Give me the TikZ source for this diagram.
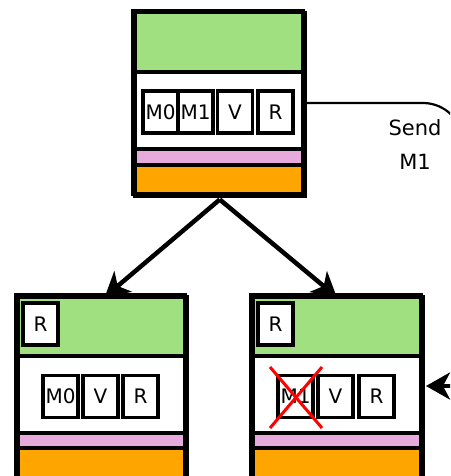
\documentclass[tikz,border=0pt]{standalone}
\usepackage{fontspec}
\newfontfamily\lab{DejaVu Sans}
\usetikzlibrary{arrows.meta}
\definecolor{cgreen}{RGB}{160,224,128}
\definecolor{cpink}{RGB}{230,170,220}
\definecolor{corange}{RGB}{255,165,0}
\begin{document}
\begin{tikzpicture}[x=1pt,y=-1pt,
  sec/.style={draw=black,line width=3.5pt},
  frame/.style={draw=black,line width=3.5pt,inner sep=0pt,anchor=north west},
  cell/.style={draw=black,line width=3.5pt,fill=white,inner sep=0pt,
    minimum width=35pt,minimum height=42pt,font=\fontsize{20}{20}\lab},
  arr/.style={line width=4.5pt,-{Stealth[length=24pt,width=27pt,inset=7pt]}}]
\useasboundingbox (0,0) rectangle (450,476);
\clip (0,0) rectangle (450,476);

% ---- top stack
\draw[sec,fill=cgreen] (133,11) rectangle (303,72);
\draw[sec,fill=white] (133,72) rectangle (303,149);
\draw[sec,fill=cpink] (133,149) rectangle (303,165);
\draw[sec,fill=corange] (133,165) rectangle (303,194);
\node[frame,minimum width=170pt,minimum height=183pt] (top) at (133,11) {};
\node[cell] (tM0) at (160.5,112) {M0};
\node[cell] (tM1) at (195.5,112) {M1};
\node[cell] (tV) at (235,112) {V};
\node[cell] (tR) at (275.5,112) {R};

% ---- bottom left stack
\draw[sec,fill=cgreen] (16,295) rectangle (185,356);
\draw[sec,fill=white] (16,356) rectangle (185,433);
\draw[sec,fill=cpink] (16,433) rectangle (185,448);
\draw[sec,fill=corange] (16,448) rectangle (185,490);
\node[frame,minimum width=169pt,minimum height=195pt] (bl) at (16,295) {};
\node[cell] (blR0) at (40.5,324) {R};
\node[cell] (blM0) at (60.5,396.5) {M0};
\node[cell] (blV) at (100.5,396.5) {V};
\node[cell] (blR) at (140.5,396.5) {R};

% ---- bottom right stack
\draw[sec,fill=cgreen] (251,295) rectangle (421,356);
\draw[sec,fill=white] (251,356) rectangle (421,433);
\draw[sec,fill=cpink] (251,433) rectangle (421,448);
\draw[sec,fill=corange] (251,448) rectangle (421,490);
\node[frame,minimum width=170pt,minimum height=195pt] (br) at (251,295) {};
\node[cell] (brR0) at (275.5,324) {R};
\node[cell] (brM1) at (295.5,396.5) {M1};
\node[cell] (brV) at (335.5,396.5) {V};
\node[cell] (brR) at (376.5,396.5) {R};
\draw[red,line width=3pt] (270,367) -- (322,428) (322,367) -- (270,428);

% ---- connectors
\draw[arr] ([yshift=-2pt]top.south) -- ([xshift=2.5pt,yshift=-2pt]bl.north);
\draw[arr] ([yshift=-2pt]top.south) -- ([xshift=-1pt,yshift=-2pt]br.north);
\coordinate (inR) at (458,386);
\draw[arr] (inR) -- ([xshift=1.5pt]br.east |- 0,386);

\coordinate (sendEnd) at (463,320);
\draw[line width=2.2pt,rounded corners=40pt] (top.east |- 0,103) -- (463,103) -- (sendEnd);
\node[font=\fontsize{21}{34}\lab,align=center] (send) at (415,145) {Send\\M1};
\end{tikzpicture}
\end{document}
